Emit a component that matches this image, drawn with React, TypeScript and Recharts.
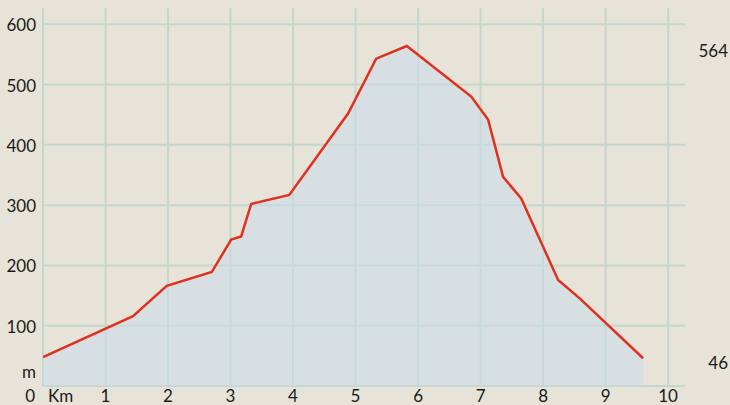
import { Area, CartesianGrid, ComposedChart, Line, XAxis, YAxis } from "recharts"

// distance (km) / altitude (m)
const km = [0, 1.44, 1.98, 2.7, 3.01, 3.17, 3.33, 3.94, 4.88, 5.33, 5.82, 6.85, 7.12, 7.36, 7.65, 8.24, 8.59, 9.6]
const altitude = [48, 116, 166, 189, 243, 248, 302, 317, 452, 543, 564, 480, 442, 347, 311, 176, 145, 46]
const kmTicks = [0, 1, 2, 3, 4, 5, 6, 7, 8, 9, 10]
const altTicks = [0, 100, 200, 300, 400, 500, 600]
const markTicks = [46, 564]

const data = km.map((k, i) => ({ km: k, alt: altitude[i] }))

const font = "Lato, 'Open Sans', sans-serif"
const textColor = "#1a1a1a"

function KmTick(props: any) {
  const { x, y, payload } = props
  if (payload.value === 0) {
    return (
      <g>
        <text x={x - 8} y={y + 16} textAnchor="end" fontSize={17} fontFamily={font} fill={textColor}>0</text>
        <text x={x + 5} y={y + 16} textAnchor="start" fontSize={17} fontFamily={font} fill={textColor}>Km</text>
      </g>
    )
  }
  return (
    <text x={x} y={y + 16} textAnchor="middle" fontSize={17} fontFamily={font} fill={textColor}>
      {payload.value}
    </text>
  )
}

function AltTick(props: any) {
  const { y, payload } = props
  if (payload.value === 0) {
    return (
      <text x={36} y={y - 8} textAnchor="end" fontSize={17} fontFamily={font} fill={textColor}>m</text>
    )
  }
  return (
    <text x={36} y={y + 7} textAnchor="end" fontSize={17} fontFamily={font} fill={textColor}>
      {payload.value}
    </text>
  )
}

function MarkTick(props: any) {
  const { y, payload } = props
  return (
    <text x={728} y={y + 11} textAnchor="end" fontSize={17} fontFamily={font} fill={textColor}>
      {payload.value}
    </text>
  )
}

export default function App() {
  return (
    <div style={{ position: "fixed", left: 0, top: 0, width: 730, height: 405, background: "#e7e3d9" }}>
      <ComposedChart width={730} height={405} data={data} margin={{ top: 8, right: 0, bottom: 0, left: 0 }}>
        <CartesianGrid stroke="#c4d7ce" strokeWidth={2} syncWithTicks />
        <XAxis
          dataKey="km"
          type="number"
          domain={[0, 10.27]}
          ticks={kmTicks}
          height={19}
          axisLine={false}
          tickLine={false}
          tickSize={0}
          tickMargin={0}
          tick={<KmTick />}
          interval={0}
          allowDataOverflow
        />
        <YAxis
          type="number"
          domain={[0, 627]}
          ticks={altTicks}
          width={43}
          axisLine={false}
          tickLine={false}
          tick={<AltTick />}
          interval={0}
          allowDataOverflow
        />
        <YAxis
          yAxisId="right"
          orientation="right"
          type="number"
          domain={[0, 627]}
          ticks={markTicks}
          width={45}
          axisLine={false}
          tickLine={false}
          tick={<MarkTick />}
          interval={0}
          allowDataOverflow
        />
        <Area
          type="linear"
          dataKey="alt"
          stroke="#e0301e"
          strokeWidth={2.5}
          fill="#c9dcec"
          fillOpacity={0.5}
          dot={false}
          activeDot={false}
          isAnimationActive={false}
        />
        <Line
          yAxisId="right"
          type="linear"
          dataKey="alt"
          stroke="none"
          dot={false}
          activeDot={false}
          legendType="none"
          isAnimationActive={false}
        />
      </ComposedChart>
    </div>
  )
}
